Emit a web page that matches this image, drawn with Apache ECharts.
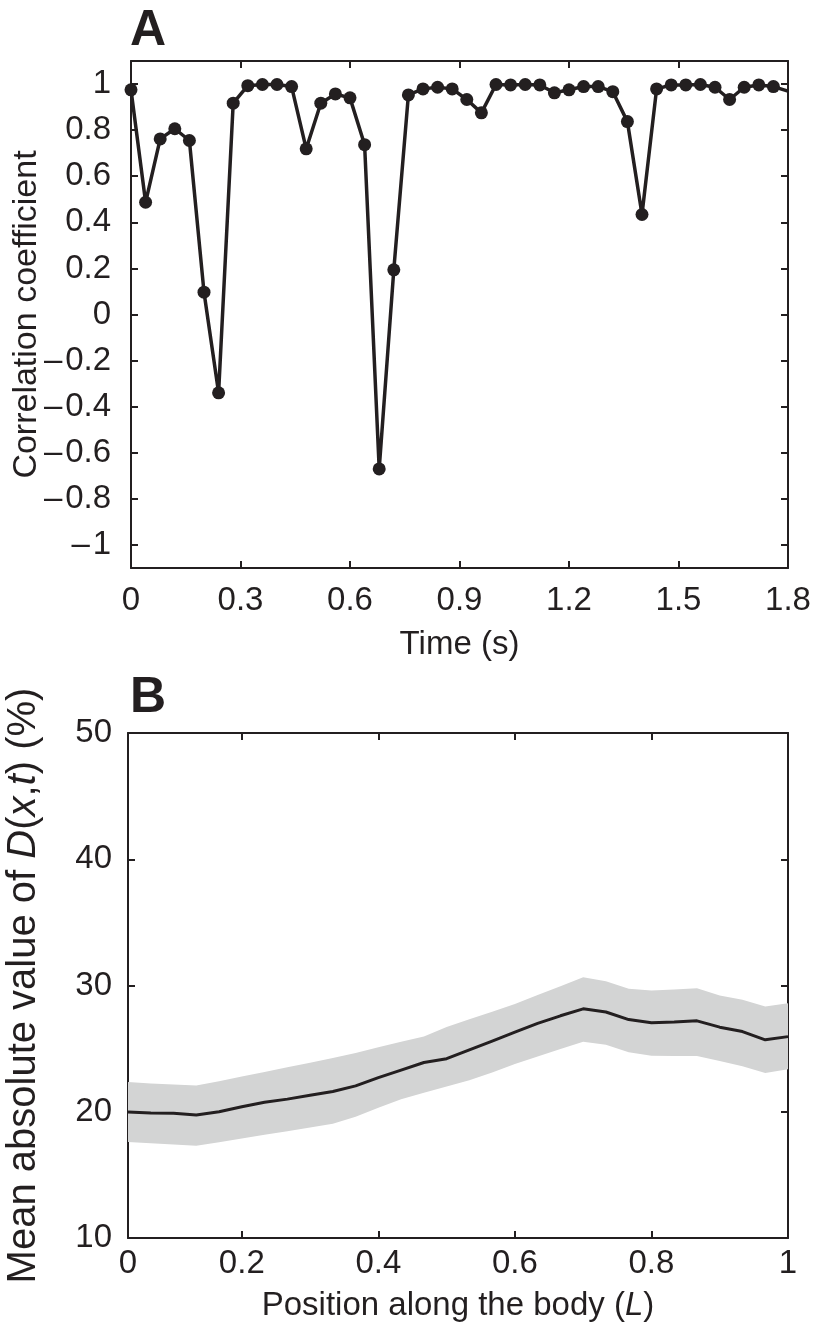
<!DOCTYPE html>
<html>
<head>
<meta charset="utf-8">
<script src="https://cdn.jsdelivr.net/npm/echarts@6/dist/echarts.min.js"></script>
<style>
  html, body { margin: 0; padding: 0; background: #ffffff; }
  #chart { width: 816px; height: 1330px; }
</style>
</head>
<body>
<div id="chart"></div>
<script>
// ---------- Panel A data ----------
const timeA = [0, 0.04, 0.08, 0.12, 0.16, 0.20, 0.24, 0.28, 0.32, 0.36, 0.40, 0.44, 0.48, 0.52, 0.56, 0.60,
  0.64, 0.68, 0.72, 0.76, 0.80, 0.84, 0.88, 0.92, 0.96, 1.00, 1.04, 1.08, 1.12, 1.16, 1.20, 1.24,
  1.28, 1.32, 1.36, 1.40, 1.44, 1.48, 1.52, 1.56, 1.60, 1.64, 1.68, 1.72, 1.76, 1.80];
const corrA = [0.975, 0.487, 0.762, 0.806, 0.755, 0.097, -0.340, 0.917, 0.993, 0.998, 0.998, 0.989, 0.719, 0.917, 0.957, 0.940,
  0.737, -0.670, 0.194, 0.953, 0.979, 0.986, 0.979, 0.933, 0.875, 0.998, 0.996, 0.998, 0.996, 0.962, 0.975, 0.989,
  0.989, 0.967, 0.837, 0.434, 0.979, 0.996, 0.996, 0.998, 0.986, 0.933, 0.986, 0.996, 0.989, 0.969];
const xTicksA = [0, 0.3, 0.6, 0.9, 1.2, 1.5, 1.8];
const xLabelsA = ['0', '0.3', '0.6', '0.9', '1.2', '1.5', '1.8'];
const yTicksA = [-1, -0.8, -0.6, -0.4, -0.2, 0, 0.2, 0.4, 0.6, 0.8, 1];
const yLabelsA = ['\u2013\u200A1', '\u2013\u200A0.8', '\u2013\u200A0.6', '\u2013\u200A0.4', '\u2013\u200A0.2', '0', '0.2', '0.4', '0.6', '0.8', '1'];

// ---------- Panel B data ----------
const posB = [0.0333, 0.0667, 0.1, 0.1333, 0.1667, 0.2, 0.2333, 0.2667, 0.3, 0.3333, 0.3667, 0.4, 0.4333, 0.4667, 0.5,
  0.5333, 0.5667, 0.6, 0.6333, 0.6667, 0.7, 0.7333, 0.7667, 0.8, 0.8333, 0.8667, 0.9, 0.9333, 0.9667, 1];
const meanB = [19.98, 19.9, 19.88, 19.75, 20.0, 20.4, 20.75, 21.0, 21.3, 21.6, 22.05, 22.7, 23.3, 23.9, 24.2,
  24.9, 25.6, 26.3, 27.0, 27.6, 28.15, 27.9, 27.3, 27.05, 27.1, 27.2, 26.7, 26.35, 25.7, 25.95];
const upperB = [22.36, 22.24, 22.15, 22.07, 22.42, 22.79, 23.15, 23.52, 23.88, 24.25, 24.66, 25.1, 25.54, 25.96, 26.71,
  27.32, 27.93, 28.54, 29.24, 29.94, 30.65, 30.33, 29.75, 29.6, 29.69, 29.78, 29.21, 28.87, 28.33, 28.6];
const lowerB = [17.6, 17.5, 17.4, 17.3, 17.58, 17.88, 18.17, 18.46, 18.76, 19.04, 19.61, 20.31, 21.0, 21.5, 22.0,
  22.5, 23.1, 23.79, 24.38, 24.97, 25.55, 25.31, 24.71, 24.44, 24.42, 24.42, 24.01, 23.61, 23.06, 23.37];
const xTicksB = [posB[0], 0.2, 0.4, 0.6, 0.8, 1];
const xLabelsB = ['0', '0.2', '0.4', '0.6', '0.8', '1'];
const yTicksB = [10, 20, 30, 40, 50];
const yLabelsB = ['10', '20', '30', '40', '50'];

// ---------- styling ----------
const INK = '#231f20';
const BAND = '#d3d4d4';
const FONT = "'Liberation Sans', Arial, Helvetica, sans-serif";
const FS = 33;

function lookup(ticks, labels) {
  return function (v) {
    for (let i = 0; i < ticks.length; i++) {
      if (Math.abs(ticks[i] - v) < 1e-6) return labels[i];
    }
    return '';
  };
}

function frameAxis(base) {
  return Object.assign({
    type: 'value',
    nameMoveOverlap: false,
    axisLine: { show: true, onZero: false, lineStyle: { color: INK, width: 2 } },
    axisTick: { show: true, inside: true, length: 7, lineStyle: { color: INK, width: 2 } },
    splitLine: { show: false },
    axisLabel: { show: false }
  }, base);
}

const chart = echarts.init(document.getElementById('chart'), null, { renderer: 'canvas' });

const option = {
  animation: false,
  backgroundColor: '#ffffff',
  textStyle: { fontFamily: FONT, color: INK },
  title: [
    { text: 'A', left: 130, top: 6, padding: 0, textStyle: { fontSize: 50, fontWeight: 'bold', color: INK, fontFamily: FONT } },
    { text: 'B', left: 130, top: 673, padding: 0, textStyle: { fontSize: 50, fontWeight: 'bold', color: INK, fontFamily: FONT } }
  ],
  grid: [
    { left: 131, right: 28, top: 61, height: 507, containLabel: false, outerBoundsMode: 'none' },
    { left: 128, right: 28, top: 733, height: 505, containLabel: false, outerBoundsMode: 'none' }
  ],
  xAxis: [
    frameAxis({
      gridIndex: 0, position: 'bottom', min: 0, max: 1.8,
      axisTick: { show: true, inside: true, length: 7, customValues: xTicksA, lineStyle: { color: INK, width: 2 } },
      axisLabel: { show: true, customValues: xTicksA, formatter: lookup(xTicksA, xLabelsA), margin: 16, fontSize: FS, color: INK, fontFamily: FONT },
      name: 'Time (s)', nameLocation: 'middle', nameGap: 60,
      nameTextStyle: { fontSize: FS, color: INK, fontFamily: FONT }
    }),
    frameAxis({
      gridIndex: 0, position: 'top', min: 0, max: 1.8,
      axisTick: { show: true, inside: true, length: 7, customValues: xTicksA, lineStyle: { color: INK, width: 2 } }
    }),
    frameAxis({
      gridIndex: 1, position: 'bottom', min: posB[0], max: 1,
      axisTick: { show: true, inside: true, length: 7, customValues: xTicksB, lineStyle: { color: INK, width: 2 } },
      axisLabel: { show: true, customValues: xTicksB, formatter: lookup(xTicksB, xLabelsB), margin: 9, fontSize: FS, color: INK, fontFamily: FONT },
      name: 'Position along the body ({i|L})', nameLocation: 'middle', nameGap: 51,
      nameTextStyle: { fontSize: FS, color: INK, fontFamily: FONT, rich: { i: { fontStyle: 'italic', fontSize: FS, color: INK, fontFamily: FONT } } }
    }),
    frameAxis({
      gridIndex: 1, position: 'top', min: posB[0], max: 1,
      axisTick: { show: true, inside: true, length: 7, customValues: xTicksB, lineStyle: { color: INK, width: 2 } }
    })
  ],
  yAxis: [
    frameAxis({
      gridIndex: 0, position: 'left', min: -1.1, max: 1.1,
      axisTick: { show: true, inside: true, length: 7, customValues: yTicksA, lineStyle: { color: INK, width: 2 } },
      axisLabel: { show: true, customValues: yTicksA, formatter: lookup(yTicksA, yLabelsA), margin: 20, fontSize: FS, color: INK, fontFamily: FONT },
      name: 'Correlation coefficient', nameLocation: 'middle', nameGap: 87,
      nameTextStyle: { fontSize: 34, color: INK, fontFamily: FONT }
    }),
    frameAxis({
      gridIndex: 0, position: 'right', min: -1.1, max: 1.1,
      axisTick: { show: true, inside: true, length: 7, customValues: yTicksA, lineStyle: { color: INK, width: 2 } }
    }),
    frameAxis({
      gridIndex: 1, position: 'left', min: 10, max: 50,
      axisTick: { show: true, inside: true, length: 7, customValues: yTicksB, lineStyle: { color: INK, width: 2 } },
      axisLabel: { show: true, customValues: yTicksB, formatter: lookup(yTicksB, yLabelsB), margin: 16, fontSize: FS, color: INK, fontFamily: FONT },
      name: 'Mean absolute value of {i|D}({i|x},{i|t}) (%)', nameLocation: 'middle', nameGap: 84,
      nameTextStyle: { fontSize: 40, color: INK, fontFamily: FONT, rich: { i: { fontStyle: 'italic', fontSize: 40, color: INK, fontFamily: FONT } } }
    }),
    frameAxis({
      gridIndex: 1, position: 'right', min: 10, max: 50,
      axisTick: { show: true, inside: true, length: 7, customValues: yTicksB, lineStyle: { color: INK, width: 2 } }
    })
  ],
  series: [
    {
      name: 'corr', type: 'line', xAxisIndex: 0, yAxisIndex: 0,
      data: timeA.map((t, i) => {
        const item = { value: [t, corrA[i]] };
        if (i === timeA.length - 1) item.symbol = 'none';
        return item;
      }),
      symbol: 'circle', symbolSize: 13, showAllSymbol: true,
      lineStyle: { color: INK, width: 3.5 },
      itemStyle: { color: INK },
      clip: true, z: 5
    },
    {
      name: 'band', type: 'custom', xAxisIndex: 2, yAxisIndex: 2,
      data: posB.map((x, i) => [x, lowerB[i], upperB[i]]),
      encode: { x: 0, y: [1, 2] },
      renderItem: function (params, api) {
        if (params.dataIndex !== 0) return null;
        const pts = [];
        for (let i = 0; i < posB.length; i++) pts.push(api.coord([posB[i], upperB[i]]));
        for (let i = posB.length - 1; i >= 0; i--) pts.push(api.coord([posB[i], lowerB[i]]));
        return { type: 'polygon', shape: { points: pts }, style: { fill: BAND, stroke: null } };
      },
      clip: true, z: 1
    },
    {
      name: 'mean', type: 'line', xAxisIndex: 2, yAxisIndex: 2,
      data: posB.map((x, i) => [x, meanB[i]]),
      symbol: 'none', lineStyle: { color: INK, width: 3 }, z: 5
    }
  ]
};

chart.setOption(option);
</script>
</body>
</html>
